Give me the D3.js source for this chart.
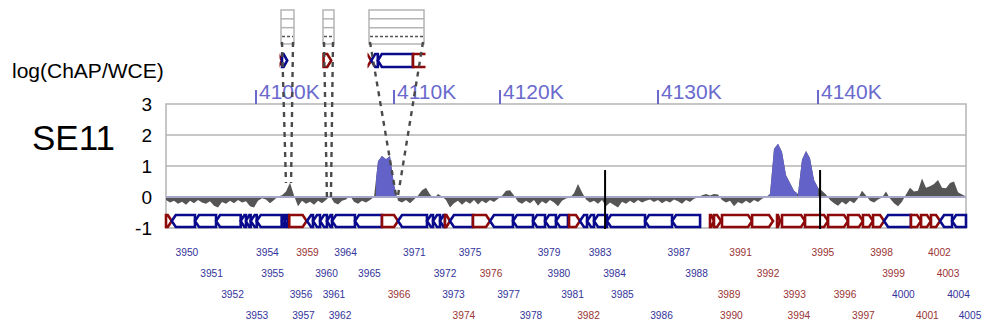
<!DOCTYPE html>
<html><head><meta charset="utf-8">
<script src="https://cdn.jsdelivr.net/npm/d3@7"></script>
<style>body{margin:0;background:#fff}svg{display:block;font-family:"Liberation Sans",Arial,sans-serif}</style>
</head><body><svg id="c" width="985" height="329"></svg>
<script>
// ---------------- DATA ----------------
const trackName = "SE11";
const yAxisTitle = "log(ChAP/WCE)";
const yTicks = [3, 2, 1, 0, -1];
const genomeTicksKb = [4100, 4110, 4120, 4130, 4140];
const genomeTickLabels = ["4100K", "4110K", "4120K", "4130K", "4140K"];
const viewStartKb = 4093.6, viewEndKb = 4149.25;

// log ratio signal, uniform bins across the view
const signal = [
-0.10,-0.18,-0.12,-0.22,-0.15,-0.25,-0.12,-0.20,-0.10,-0.18,
-0.22,-0.14,-0.28,-0.34,-0.16,-0.22,-0.12,-0.20,-0.10,-0.18,
-0.14,-0.30,-0.34,-0.12,-0.04,-0.08,-0.20,-0.10,0.02,0.06,
0.18,0.46,0.05,-0.30,-0.12,-0.22,-0.15,-0.25,-0.12,-0.20,
-0.10,0.04,-0.18,-0.24,-0.12,-0.08,0.04,-0.15,-0.22,-0.12,
-0.18,-0.10,0.00,1.15,1.32,1.22,1.32,0.40,-0.12,-0.18,
-0.10,-0.20,-0.08,0.05,0.22,0.30,0.08,-0.05,0.10,0.02,
-0.10,-0.34,-0.20,-0.12,-0.25,-0.14,-0.22,-0.10,-0.24,-0.12,
-0.20,-0.10,-0.16,-0.06,0.04,0.20,0.22,0.05,-0.15,-0.22,
-0.12,-0.20,-0.10,-0.28,-0.14,-0.22,-0.10,-0.18,-0.30,-0.12,
-0.05,-0.02,0.12,0.42,0.15,-0.08,-0.18,-0.12,-0.22,-0.10,
-0.30,-0.18,-0.26,-0.34,-0.15,-0.22,-0.12,-0.20,-0.10,-0.18,
-0.12,-0.08,-0.16,-0.10,-0.20,-0.12,-0.18,-0.08,-0.14,-0.22,
-0.10,-0.16,-0.06,-0.02,0.06,0.10,0.05,0.10,0.08,-0.10,
-0.18,-0.12,-0.30,-0.16,-0.22,-0.12,-0.20,-0.10,-0.16,-0.06,
0.00,0.10,1.55,1.72,1.45,0.70,0.45,0.20,0.10,1.20,
1.48,1.25,0.55,0.30,0.20,0.08,-0.10,-0.20,-0.28,-0.15,
-0.24,-0.12,-0.20,-0.05,0.20,0.05,-0.12,-0.18,-0.08,-0.02,
0.18,-0.05,-0.20,-0.30,-0.15,0.08,0.30,0.18,0.20,0.60,
0.30,0.35,0.42,0.55,0.30,0.28,0.45,0.50,0.15,0.08,
0.02
];

// enriched (called) regions, kb
const peakRegions = [[4108.70, 4110.19], [4136.94, 4138.69], [4138.75, 4140.00]];

// genes: [start kb, end kb, strand]
const genes = [
[4093.60,4094.01,"+"],[4094.01,4095.66,"-"],[4095.66,4097.16,"-"],[4097.16,4098.91,"-"],
[4098.91,4099.29,"-"],[4099.29,4099.62,"-"],[4099.62,4100.05,"-"],[4100.05,4101.86,"-"],
[4101.88,4102.10,"-"],[4102.10,4102.32,"-"],[4102.41,4103.67,"+"],[4103.70,4104.13,"-"],
[4104.13,4104.64,"-"],[4104.64,4105.14,"-"],[4105.14,4105.51,"-"],[4105.51,4107.17,"-"],
[4107.17,4109.13,"-"],[4109.13,4110.38,"+"],[4110.38,4113.11,"-"],[4113.11,4113.68,"-"],
[4113.68,4114.34,"-"],[4114.34,4114.81,"-"],[4114.81,4115.28,"+"],[4115.28,4117.45,"-"],
[4117.45,4119.06,"+"],[4119.06,4120.82,"-"],[4120.82,4122.09,"-"],[4122.09,4122.85,"-"],
[4122.85,4123.54,"-"],[4123.54,4124.30,"-"],[4124.37,4125.06,"+"],[4125.06,4125.51,"-"],
[4125.51,4125.95,"-"],[4125.95,4126.77,"-"],[4126.77,4129.18,"-"],[4129.18,4130.88,"-"],
[4130.88,4132.63,"-"],[4133.25,4133.50,"+"],[4133.50,4133.94,"+"],[4134.00,4135.88,"+"],
[4135.88,4137.19,"+"],[4137.44,4137.63,"+"],[4137.75,4139.19,"+"],[4139.19,4140.63,"+"],
[4140.63,4141.88,"+"],[4141.88,4142.81,"+"],[4142.81,4143.44,"+"],[4143.44,4144.13,"+"],
[4144.13,4145.81,"-"],[4145.81,4146.44,"+"],[4146.44,4147.06,"+"],[4147.06,4147.63,"+"],
[4147.63,4148.38,"-"],[4148.38,4149.25,"-"]
];

// gene labels: [name, centre kb, row, strand]
const geneLabels = [
["3950",4095.09,0,"-"],["3951",4096.84,1,"-"],["3952",4098.33,2,"-"],["3953",4100.07,3,"-"],
["3954",4100.83,0,"-"],["3955",4101.20,1,"-"],["3956",4103.26,2,"-"],["3957",4103.44,3,"-"],
["3959",4103.73,0,"+"],["3960",4105.11,1,"-"],["3961",4105.65,2,"-"],["3962",4106.09,3,"-"],
["3964",4106.49,0,"-"],["3965",4108.22,1,"-"],["3966",4110.47,2,"+"],["3971",4111.93,0,"-"],
["3972",4114.81,1,"-"],["3973",4115.61,2,"-"],["3974",4116.60,3,"+"],["3975",4117.17,0,"-"],
["3976",4119.15,1,"+"],["3977",4120.54,2,"-"],["3978",4121.96,3,"-"],["3979",4123.10,0,"-"],
["3980",4123.73,1,"-"],["3981",4124.59,2,"-"],["3982",4125.60,3,"+"],["3983",4126.33,0,"-"],
["3984",4127.25,1,"-"],["3985",4127.75,2,"-"],["3986",4130.22,3,"-"],["3987",4131.31,0,"-"],
["3988",4132.41,1,"-"],["3989",4134.44,2,"+"],["3990",4134.59,3,"+"],["3991",4135.16,0,"+"],
["3992",4136.88,1,"+"],["3993",4138.53,2,"+"],["3994",4138.81,3,"+"],["3995",4140.31,0,"+"],
["3996",4141.69,2,"+"],["3997",4142.84,3,"+"],["3998",4143.97,0,"+"],["3999",4144.72,1,"+"],
["4000",4145.34,2,"-"],["4001",4146.84,3,"+"],["4002",4147.59,0,"+"],["4003",4148.13,1,"+"],
["4004",4148.78,2,"-"],["4005",4149.50,3,"-"]
];

// boundary markers: [kb, top value]
const markers = [[4126.65, 0.87], [4140.13, 0.87]];

// zoomed insets: region kb (lo, hi), value where the guide lines end
const insetRegions = [[4102.17, 4102.54, 0.45], [4105.14, 4105.43, 0.0], [4110.19, 4110.38, 0.05]];
// genes in each inset: [start frac, end frac, strand]
const insetGenes = [
  [[-0.5, 0.08, "+"], [0.08, 0.48, "+b"]],
  [[0.05, 0.75, "+"]],
  [[-0.2, 0.04, "+"], [0.04, 0.16, "-"], [0.16, 0.80, "-"], [0.80, 1.30, "+"]]
];

// ---------------- LAYOUT ----------------
const W = 985, H = 329;
const plotL = 166, plotR = 966, plotT = 104, plotB = 228;
const breaksKb = [viewStartKb, 4100, 4110, 4120, 4130, 4140, viewEndKb];
const breaksPx = [plotL, 256, 394, 500, 658, 818, plotR];
const geneY = 221, geneH = 12;
const labelY0 = 252, labelStep = 21.2;
const insetBoxPx = [[281, 294], [323, 334], [369, 424]];
const insetTop = 10, insetBot = 44, insetGeneY = 60.5, insetGeneH = 13;

const BLUE = "#0a0a8c", RED = "#8e0a0a";
const LBLUE = "#33339a", LRED = "#9a3333";
const AXIS = "#6a6acd", PEAK = "#6262c8", SIG = "#555555", GRID = "#b4b4b4";

// ---------------- SCALES ----------------
const x = d3.scaleLinear().domain(breaksKb).range(breaksPx);
const y = d3.scaleLinear().domain([-1, 3]).range([plotB, plotT]);
const sx = d3.scaleLinear().domain([0, signal.length - 1]).range([plotL, plotR]);
const insetY = d3.scaleLinear().domain([0, 3]).range([36.5, insetTop]);

const svg = d3.select("#c");

// titles
svg.append("text").attr("x", 12).attr("y", 78).attr("font-size", 21).attr("fill", "#000").text(yAxisTitle);
svg.append("text").attr("x", 32).attr("y", 150).attr("font-size", 35).attr("fill", "#000").text(trackName);

// y tick labels
svg.append("g").selectAll("text").data(yTicks).join("text")
  .attr("x", 152).attr("y", d => y(d)).attr("dy", "0.36em")
  .attr("text-anchor", "end").attr("font-size", 19).attr("fill", "#000").text(d => d);

// grid + frame
svg.append("g").selectAll("line").data(yTicks.filter(d => d > 0 && d < 3)).join("line")
  .attr("x1", plotL).attr("x2", plotR).attr("y1", d => y(d)).attr("y2", d => y(d))
  .attr("stroke", GRID).attr("stroke-width", 1.5);
svg.append("rect").attr("x", plotL).attr("y", plotT).attr("width", plotR - plotL).attr("height", plotB - plotT)
  .attr("fill", "none").attr("stroke", GRID).attr("stroke-width", 1.5);

// genome axis ticks
const gAx = svg.append("g");
gAx.selectAll("line").data(genomeTicksKb).join("line")
  .attr("x1", d => x(d)).attr("x2", d => x(d)).attr("y1", 90).attr("y2", plotT)
  .attr("stroke", AXIS).attr("stroke-width", 2);
gAx.selectAll("text").data(genomeTicksKb).join("text")
  .attr("x", d => x(d) + 3).attr("y", 98.5).attr("font-size", 21).attr("fill", AXIS)
  .text((d, i) => genomeTickLabels[i]);

// signal
const area = d3.area().x((d, i) => sx(i)).y0(y(0)).y1(d => y(d));
svg.append("path").datum(signal).attr("d", area).attr("fill", SIG);
const defs = svg.append("defs");
const cp = defs.append("clipPath").attr("id", "peaks");
cp.selectAll("rect").data(peakRegions).join("rect")
  .attr("x", d => x(d[0])).attr("width", d => x(d[1]) - x(d[0]))
  .attr("y", plotT).attr("height", y(0) - plotT);
svg.append("path").datum(signal).attr("d", area).attr("fill", PEAK).attr("clip-path", "url(#peaks)");
svg.append("line").attr("x1", plotL).attr("x2", plotR).attr("y1", y(0)).attr("y2", y(0))
  .attr("stroke", "#a6a6c8").attr("stroke-width", 2);

// genes
function genePath(x0, x1, strand, cy, h) {
  const a = Math.min(4, (x1 - x0) * 0.7);
  const t = cy - h / 2, b = cy + h / 2;
  if (strand[0] === "+") return `M${x0},${t}L${x1 - a},${t}L${x1},${cy}L${x1 - a},${b}L${x0},${b}Z`;
  return `M${x0},${cy}L${x0 + a},${t}L${x1},${t}L${x1},${b}L${x0 + a},${b}Z`;
}
svg.append("g").selectAll("path").data(genes).join("path")
  .attr("d", d => genePath(x(d[0]), x(d[1]), d[2], geneY, geneH))
  .attr("fill", "#fff").attr("stroke", d => d[2] === "+" ? RED : BLUE)
  .attr("stroke-width", 2.6).attr("stroke-linejoin", "miter");

// gene labels
svg.append("g").selectAll("text").data(geneLabels).join("text")
  .attr("x", d => x(d[1])).attr("y", d => labelY0 + d[2] * labelStep).attr("dy", "0.35em")
  .attr("text-anchor", "middle").attr("font-size", 10.2)
  .attr("fill", d => d[3] === "+" ? LRED : LBLUE).text(d => d[0]);

// markers
svg.append("g").selectAll("line").data(markers).join("line")
  .attr("x1", d => x(d[0])).attr("x2", d => x(d[0])).attr("y1", d => y(d[1])).attr("y2", plotB + 1)
  .attr("stroke", "#000").attr("stroke-width", 2);

// insets
const gIn = svg.append("g");
insetBoxPx.forEach((bx, k) => {
  const [x0, x1] = bx;
  const g = gIn.append("g");
  const cid = "ic" + k;
  defs.append("clipPath").attr("id", cid).append("rect")
    .attr("x", x0 - 1.5).attr("y", 0).attr("width", x1 - x0 + 3).attr("height", 80);
  g.selectAll("line.h").data([1, 2]).join("line").attr("class", "h")
    .attr("x1", x0).attr("x2", x1).attr("y1", d => insetY(d)).attr("y2", d => insetY(d))
    .attr("stroke", GRID).attr("stroke-width", 1.5);
  g.append("rect").attr("x", x0).attr("y", insetTop).attr("width", x1 - x0).attr("height", insetBot - insetTop)
    .attr("fill", "none").attr("stroke", GRID).attr("stroke-width", 1.5);
  g.append("line").attr("x1", x0 + 1).attr("x2", x1 - 1).attr("y1", insetY(0)).attr("y2", insetY(0))
    .attr("stroke", SIG).attr("stroke-width", 1.5).attr("stroke-dasharray", "3,2");
  const gg = g.append("g").attr("clip-path", `url(#${cid})`);
  gg.selectAll("path").data(insetGenes[k]).join("path")
    .attr("d", d => genePath(x0 + d[0] * (x1 - x0), x0 + d[1] * (x1 - x0), d[2], insetGeneY, insetGeneH))
    .attr("fill", "#fff").attr("stroke", d => d[2] === "+" ? RED : BLUE).attr("stroke-width", 2.6);
  // guide lines
  const [lo, hi, v] = insetRegions[k];
  g.selectAll("line.d").data([[x0 + 1, x(lo)], [x1 - 1, x(hi)]]).join("line").attr("class", "d")
    .attr("x1", d => d[0]).attr("y1", insetBot - 2).attr("x2", d => d[1]).attr("y2", y(v))
    .attr("stroke", "#4a4a4a").attr("stroke-width", 2.4).attr("stroke-dasharray", "5,5");
});
</script></body></html>
